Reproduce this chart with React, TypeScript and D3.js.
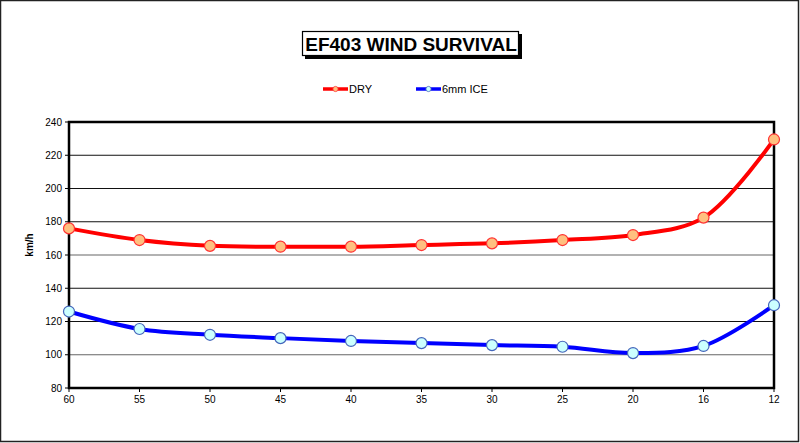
import React from 'react';
import * as d3 from 'd3';

const width = 800;
const height = 443;
const margin = { top: 122, right: 26, bottom: 55, left: 69 };

const categories = ['60', '55', '50', '45', '40', '35', '30', '25', '20', '16', '12'];
const dry = [176, 169, 165.5, 165, 165, 166, 167, 169, 172, 182.5, 229.5];
const ice = [126, 115.5, 112, 110, 108.3, 107, 105.8, 104.8, 101, 105.3, 129.8];
const yTicks = [80, 100, 120, 140, 160, 180, 200, 220, 240];

const series = [
    { name: 'DRY', values: dry, stroke: '#ff0000', fill: '#ffc080', ring: '#ff3333', legendX: 323 },
    { name: '6mm ICE', values: ice, stroke: '#0000ff', fill: '#ccffff', ring: '#4466bb', legendX: 416 },
];

const font = 'Arial, "Liberation Sans", sans-serif';

const App = () => {
    const innerW = width - margin.left - margin.right;
    const innerH = height - margin.top - margin.bottom;
    const x = d3.scalePoint<string>().domain(categories).range([0, innerW]);
    const y = d3.scaleLinear().domain([80, 240]).range([innerH, 0]);
    const line = d3.line<number>()
        .x((_, i) => x(categories[i]) as number)
        .y(d => y(d))
        .curve(d3.curveCatmullRom.alpha(0.5));

    return (
        <svg width={width} height={height} style={{ position: 'absolute', left: 0, top: 0 }}>
            <rect x={0.5} y={0.5} width={width - 2} height={height - 2} fill="#fff" stroke="#222" strokeWidth={1.5} />

            {/* title */}
            <rect x={305} y={34} width={217} height={25} fill="#000" />
            <rect x={302.5} y={31.5} width={216} height={24} fill="#fff" stroke="#000" strokeWidth={1.2} />
            <text x={411} y={51} textAnchor="middle" fontFamily={font} fontWeight="bold" fontSize={19}>
                EF403 WIND SURVIVAL
            </text>

            {/* legend */}
            {series.map(s => (
                <g key={s.name}>
                    <line x1={s.legendX} x2={s.legendX + 25} y1={89} y2={89} stroke={s.stroke} strokeWidth={3.5} />
                    <circle cx={s.legendX + 12.5} cy={89} r={2.6} fill={s.fill} stroke={s.ring} strokeWidth={0.8} />
                    <text x={s.legendX + 26} y={93} fontFamily={font} fontSize={11}>{s.name}</text>
                </g>
            ))}

            <g transform={`translate(${margin.left},${margin.top})`}>
                {yTicks.map(t => (
                    <g key={t}>
                        {t > 80 && t < 240 && (
                            <line x1={0} x2={innerW} y1={y(t)} y2={y(t)} stroke={t === 100 || t === 160 ? '#666' : '#111'} strokeWidth={1.2} />
                        )}
                        <line x1={-4} x2={0} y1={y(t)} y2={y(t)} stroke="#000" />
                        <text x={-7} y={y(t) + 3.5} textAnchor="end" fontFamily={font} fontSize={10}>{t}</text>
                    </g>
                ))}
                {categories.map(c => (
                    <g key={c}>
                        <line x1={x(c)} x2={x(c)} y1={innerH} y2={innerH + 4} stroke="#000" />
                        <text x={x(c)} y={innerH + 15} textAnchor="middle" fontFamily={font} fontSize={10}>{c}</text>
                    </g>
                ))}
                <rect x={0} y={0} width={innerW} height={innerH} fill="none" stroke="#000" strokeWidth={2.5} />

                {series.map(s => (
                    <g key={s.name}>
                        <path d={line(s.values) || ''} fill="none" stroke={s.stroke} strokeWidth={4} />
                        {s.values.map((v, i) => (
                            <circle key={i} cx={x(categories[i])} cy={y(v)} r={5.5} fill={s.fill} stroke={s.ring} strokeWidth={1.2} />
                        ))}
                    </g>
                ))}
            </g>

            <text transform="translate(33,245) rotate(-90)" textAnchor="middle" fontFamily={font} fontWeight="bold" fontSize={10}>km/h</text>
        </svg>
    );
};

export default App;
